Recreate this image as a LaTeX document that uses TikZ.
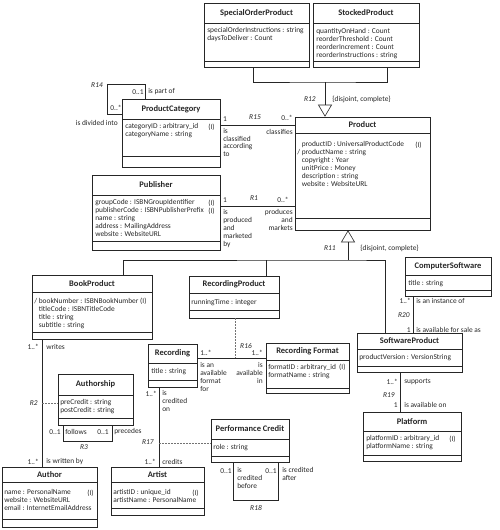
\documentclass[tikz,border=0pt]{standalone}
\usepackage{fontspec}
\setmainfont{Carlito}
\usetikzlibrary{arrows.meta,fit}

\tikzset{
  classbox/.style={draw, inner sep=0pt},
  classname/.style={inner sep=0pt, font=\fontsize{8.5}{10}\selectfont\bfseries},
  attrs/.style={anchor=north west, align=left, inner sep=0pt, font=\fontsize{7.4}{8}\selectfont},
  lbl/.style={inner sep=0pt, font=\fontsize{7.4}{7.8}\selectfont},
  rel/.style={inner sep=0pt, font=\fontsize{7.4}{7.8}\selectfont\itshape},
  gen/.style={-{Triangle[open,length=12pt,width=14pt]}},
  link/.style={draw=black!55, line width=0.5pt, dash pattern=on 1.6pt off 1.4pt},
}

% box with name, attribute and operation compartments
\newcommand{\umlclass}[8]{%
  \node[classbox, fit={(#2,#3) (#4,#5)}] (#1) {};
  \draw (#2,#6) -- (#4,#6) (#2,#7) -- (#4,#7);
  \node[classname] (#1-name) at ({(#2+#4)/2},{(#3+#6)/2}) {#8};
}

\begin{document}
\begin{tikzpicture}[x=1pt, y=-1pt, line width=0.6pt, color=black!85]
\useasboundingbox (0,0) rectangle (500,530);

% classes
\umlclass{specialorder}{204}{3}{309}{67}{23}{61}{SpecialOrderProduct}
\node[attrs] (specialorder-a) at (207,27.5) {specialOrderInstructions : string\\daysToDeliver : Count};

\umlclass{stocked}{313}{3}{419}{67}{23}{61}{StockedProduct}
\node[attrs] (stocked-a) at (316,28) {quantityOnHand : Count\\reorderThreshold : Count\\reorderIncrement : Count\\reorderInstructions : string};

\umlclass{product}{295}{117}{430}{230}{133}{218}{Product}
\node[attrs] (product-a) at (297,141) {\phantom{/ }productID : UniversalProductCode\\/ productName : string\\\phantom{/ }copyright : Year\\\phantom{/ }unitPrice : Money\\\phantom{/ }description : string\\\phantom{/ }website : WebsiteURL};
\node[lbl, anchor=east] (product-i) at (422,145) {(I)};

\umlclass{category}{122}{99}{220}{167}{119}{156}{ProductCategory}
\node[attrs] (category-a) at (125,123) {categoryID : arbitrary\_id\\categoryName : string};
\node[lbl, anchor=east] (category-i) at (215,127) {(I)};

\umlclass{publisher}{92}{175}{220}{250}{195}{241}{Publisher}
\node[attrs] (publisher-a) at (95,199) {groupCode : ISBNGroupIdentifier\\publisherCode : ISBNPublisherPrefix\\name : string\\address : MailingAddress\\website : WebsiteURL};
\node[lbl, anchor=east] (publisher-i1) at (215,203) {(I)};
\node[lbl, anchor=east] (publisher-i2) at (215,211) {(I)};

\umlclass{bookproduct}{32}{275}{152}{339}{292}{332}{BookProduct}
\node[attrs] (bookproduct-a) at (34,298) {/ bookNumber : ISBNBookNumber (I)\\\phantom{/ }titleCode : ISBNTitleCode\\\phantom{/ }title : string\\\phantom{/ }subtitle : string};

\umlclass{recordingproduct}{189}{276}{279}{318}{293}{310}{RecordingProduct}
\node[attrs] (recordingproduct-a) at (191,299) {runningTime : integer};

\umlclass{computersw}{405}{257}{491}{296}{275}{290}{ComputerSoftware}
\node[attrs] (computersw-a) at (408,280) {title : string};

\umlclass{softwareproduct}{357}{333}{462}{372}{349}{366}{SoftwareProduct}
\node[attrs] (softwareproduct-a) at (359,354) {productVersion : VersionString};

\umlclass{platform}{363}{412}{461}{461}{431}{455}{Platform}
\node[attrs] (platform-a) at (366,435) {platformID : arbitrary\_id\\platformName : string};
\node[lbl, anchor=east] (platform-i) at (456,439) {(I)};

\umlclass{recording}{148}{344}{197}{387}{363}{380}{Recording}
\node[attrs] (recording-a) at (151,368) {title : string};

\umlclass{recformat}{266}{343}{349}{393}{360}{388}{Recording Format}
\node[attrs] (recformat-a) at (268,364) {formatID : arbitrary\_id\ \ (I)\\formatName : string};

\umlclass{authorship}{58}{374}{133}{425}{395}{418}{Authorship}
\node[attrs] (authorship-a) at (60,399) {preCredit : string\\postCredit : string};

\umlclass{author}{2}{467}{97}{527}{482}{519}{Author}
\node[attrs] (author-a) at (4,489) {name : PersonalName\\website : WebsiteURL\\email : InternetEmailAddress};
\node[lbl, anchor=east] (author-i) at (94,493) {(I)};

\umlclass{artist}{111}{467}{204}{515}{482}{508}{Artist}
\node[attrs] (artist-a) at (113,489) {artistID : unique\_id\\artistName : PersonalName};
\node[lbl, anchor=east] (artist-i) at (199,493) {(I)};

\umlclass{perfcredit}{211}{419}{289}{462}{439}{456}{Performance Credit}
\node[attrs] (perfcredit-a) at (213,444) {role : string};

% generalizations
\coordinate (r12-j) at (325,82);
\draw (specialorder.south -| 253,0) |- (r12-j) -| (stocked.south -| 387,0);
\draw[gen] (r12-j) -- (product.north -| 325,0);
\coordinate (r11-j) at (348,260);
\draw (bookproduct.north -| 123,0) |- (r11-j) -| (softwareproduct.north -| 385,0);
\draw (recordingproduct.north -| 266,0) -- (r11-j -| 266,0);
\draw[gen] (r11-j) -- (product.south -| 348,0);

% associations
\draw (category.north -| 145,0) |- (107,84) |- (category.west |- 0,114);
\draw (category.east |- 0,125) -- (product.west |- 0,125);
\draw (publisher.east |- 0,206) -- (product.west |- 0,206);
\draw (computersw.south -| 413,0) -- (softwareproduct.north -| 413,0);
\draw (softwareproduct.south -| 400,0) -- (platform.north -| 400,0);
\draw (recording.east |- 0,358) -- (recformat.west |- 0,358);
\coordinate (r16-j) at (235,358);
\draw[link] (recordingproduct.south -| 235,0) -- (r16-j);
\draw (recording.south -| 159,0) -- (artist.north -| 159,0);
\coordinate (r17-j) at (159,443);
\draw[link] (r17-j) -- (perfcredit.west |- 0,443);
\draw (bookproduct.south -| 42,0) -- (author.north -| 42,0);
\coordinate (r2-j) at (42,403);
\draw[link] (r2-j) -- (authorship.west |- 0,403);
\draw (authorship.south -| 63,0) |- (112,441) -- (authorship.south -| 112,0);
\draw (perfcredit.south -| 233,0) |- (278,500) -- (perfcredit.south -| 278,0);

% labels
\node[rel] (r14) at (97,85) {R14};
\node[lbl] (r14-m1) at (138,92) {0..1};
\node[lbl, anchor=west] (r14-p1) at (148,92) {is part of};
\node[lbl] (r14-m2) at (116,108) {0..*};
\node[lbl, anchor=east] (r14-p2) at (118,123) {is divided into};

\node[lbl] (r15-m1) at (225,119) {1};
\node[lbl, anchor=north west, align=left] (r15-p1) at (223,128) {is\\classified\\according\\to};
\node[rel] (r15) at (255,117) {R15};
\node[lbl] (r15-m2) at (287,118) {0..*};
\node[lbl, anchor=east] (r15-p2) at (293,132) {classifies};

\node[lbl] (r1-m1) at (225,200) {1};
\node[lbl, anchor=north west, align=left] (r1-p1) at (223,209.5) {is\\produced\\and\\marketed\\by};
\node[rel] (r1) at (254,198) {R1};
\node[lbl] (r1-m2) at (283,200) {0..*};
\node[lbl, anchor=north east, align=right] (r1-p2) at (293,209.5) {produces\\and\\markets};

\node[rel, anchor=east] (r12) at (316,99) {R12};
\node[lbl, anchor=west] (r12-c) at (332,99) {\{disjoint, complete\}};
\node[rel, anchor=east] (r11) at (336,248) {R11};
\node[lbl, anchor=west] (r11-c) at (360,248) {\{disjoint, complete\}};

\node[lbl, anchor=east] (r20-m1) at (411,301) {1..*};
\node[lbl, anchor=west] (r20-p1) at (416,301) {is an instance of};
\node[rel, anchor=east] (r20) at (410,315) {R20};
\node[lbl, anchor=east] (r20-m2) at (411,330) {1};
\node[lbl, anchor=west] (r20-p2) at (416,330) {is available for sale as};

\node[lbl, anchor=east] (r19-m1) at (398,382) {1..*};
\node[lbl, anchor=west] (r19-p1) at (404,382) {supports};
\node[rel, anchor=east] (r19) at (395,395) {R19};
\node[lbl, anchor=east] (r19-m2) at (398,405) {1};
\node[lbl, anchor=west] (r19-p2) at (404,405) {is available on};

\node[rel] (r16) at (246,346) {R16};
\node[lbl, anchor=west] (r16-m1) at (200,353) {1..*};
\node[lbl, anchor=north west, align=left] (r16-p1) at (200,362.5) {is an\\available\\format\\for};
\node[lbl, anchor=east] (r16-m2) at (263,353) {1..*};
\node[lbl, anchor=north east, align=right] (r16-p2) at (263,362.5) {is\\available\\in};

\node[lbl, anchor=east] (r17-m1) at (157,394) {1..*};
\node[lbl, anchor=north west, align=left] (r17-p1) at (162,390.5) {is\\credited\\on};
\node[rel, anchor=east] (r17) at (154,442) {R17};
\node[lbl, anchor=east] (r17-m2) at (156,462) {1..*};
\node[lbl, anchor=west] (r17-p2) at (162,462) {credits};

\node[lbl, anchor=east] (r2-m1) at (39,347) {1..*};
\node[lbl, anchor=west] (r2-p1) at (46,347) {writes};
\node[rel, anchor=east] (r2) at (38,403) {R2};
\node[lbl, anchor=east] (r2-m2) at (39,462) {1..*};
\node[lbl, anchor=west] (r2-p2) at (46,462) {is written by};

\node[lbl, anchor=east] (r3-m1) at (61,432) {0..1};
\node[lbl, anchor=west] (r3-p1) at (65,432) {follows};
\node[lbl, anchor=east] (r3-m2) at (109,432) {0..1};
\node[lbl, anchor=west] (r3-p2) at (114,432) {precedes};
\node[rel] (r3) at (84,447) {R3};

\node[lbl, anchor=east] (r18-m1) at (232,471) {0..1};
\node[lbl, anchor=north west, align=left] (r18-p1) at (237,467.5) {is\\credited\\before};
\node[lbl, anchor=east] (r18-m2) at (277,471) {0..1};
\node[lbl, anchor=north west, align=left] (r18-p2) at (282,467.5) {is credited\\after};
\node[rel] (r18) at (256,508) {R18};
\end{tikzpicture}
\end{document}
